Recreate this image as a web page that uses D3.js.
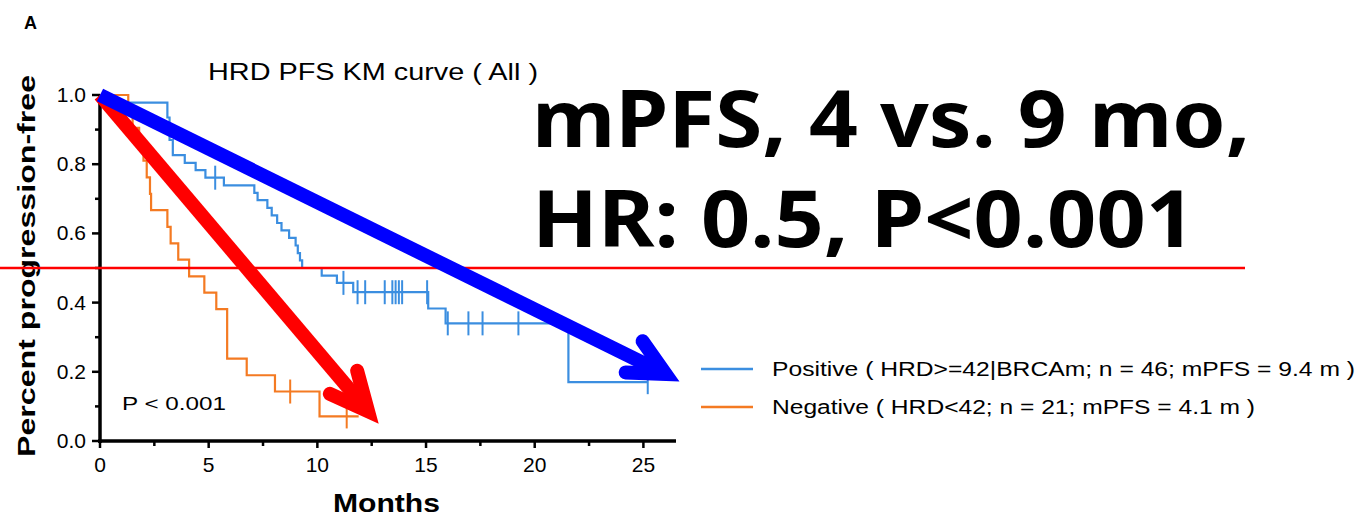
<!DOCTYPE html>
<html>
<head>
<meta charset="utf-8">
<script src="https://cdn.jsdelivr.net/npm/d3@7"></script>
<style>
  body { margin: 0; background: #fff; }
  #chart { width: 1362px; height: 516px; }
  text { font-family: "Liberation Sans", Arial, sans-serif; }
</style>
</head>
<body>
<div id="chart"></div>
<script>
// Positive group (HRD>=42|BRCAm), step times and survival
const posTimes = [0, 0.5, 3.1, 3.2, 3.35, 3.9, 4.4, 4.85, 5.7, 7.1, 7.25, 7.7, 7.9, 8.15, 8.35, 8.7, 9.0, 9.1, 9.2, 9.3, 10.2, 10.9, 11.65, 15.1, 15.9, 21.55, 25.2];
const posSurv = [1, 0.978, 0.935, 0.870, 0.826, 0.804, 0.783, 0.761, 0.739, 0.717, 0.696, 0.674, 0.652, 0.630, 0.609, 0.587, 0.565, 0.543, 0.522, 0.500, 0.478, 0.457, 0.430, 0.383, 0.340, 0.170, 0.170];
const posCensor = [5.3, 11.2, 11.85, 12.2, 13.1, 13.45, 13.6, 13.75, 13.9, 15.05, 16.0, 16.95, 17.6, 19.25, 25.2];

// Negative group (HRD<42)
const negTimes = [0, 1.3, 1.5, 1.8, 2.0, 2.15, 2.3, 2.35, 3.1, 3.25, 3.6, 4.1, 4.8, 5.35, 5.85, 6.75, 8.05, 10.1, 11.9];
const negSurv = [1, 0.952, 0.905, 0.857, 0.810, 0.762, 0.714, 0.667, 0.619, 0.571, 0.524, 0.476, 0.429, 0.381, 0.238, 0.190, 0.143, 0.071, 0.071];
const negCensor = [8.75, 11.35];

const xTicks = [0, 5, 10, 15, 20, 25];
const yTicks = [0, 0.2, 0.4, 0.6, 0.8, 1.0];
const legendLabels = [
  "Positive ( HRD>=42|BRCAm; n = 46; mPFS = 9.4 m )",
  "Negative ( HRD<42; n = 21; mPFS = 4.1 m )"
];
const headline = ["mPFS, 4 vs. 9 mo,", "HR: 0.5, P<0.001"];

const width = 1362, height = 516;
const blue = "#3b8ee0", orange = "#f47a22";

const svg = d3.select("#chart").append("svg")
    .attr("width", width)
    .attr("height", height);

const x = d3.scaleLinear().domain([0, 26.5]).range([100, 676]);
const y = d3.scaleLinear().domain([0, 1]).range([441, 95]);

// fit a text element to a given pixel width
function fit(sel, w) {
  sel.attr("textLength", w).attr("lengthAdjust", "spacingAndGlyphs");
  return sel;
}

svg.append("text").attr("x", 24).attr("y", 29)
    .style("font-size", "18px").style("font-weight", "bold").text("A");

fit(svg.append("text").attr("x", 208).attr("y", 80)
    .style("font-size", "24px").text("HRD PFS KM curve ( All )"), 330);

// axes
const g = svg.append("g");
g.append("line").attr("x1", x(0) - 2).attr("x2", x(26.5)).attr("y1", y(0)).attr("y2", y(0))
    .attr("stroke", "#000").attr("stroke-width", 3.5);
g.append("line").attr("x1", x(0)).attr("x2", x(0)).attr("y1", y(0) + 2).attr("y2", y(1))
    .attr("stroke", "#000").attr("stroke-width", 3.5);

const xMinor = d3.range(0, 26, 2.5);
g.selectAll(".xt").data(xMinor).join("line")
    .attr("x1", d => x(d)).attr("x2", d => x(d))
    .attr("y1", y(0)).attr("y2", d => y(0) + (d % 5 === 0 ? 7 : 5))
    .attr("stroke", "#000").attr("stroke-width", 2.5);
const yMinor = d3.range(0, 1.01, 0.1);
g.selectAll(".yt").data(yMinor).join("line")
    .attr("y1", d => y(d)).attr("y2", d => y(d))
    .attr("x1", x(0)).attr("x2", (d, i) => x(0) - (i % 2 === 0 ? 8 : 5))
    .attr("stroke", "#000").attr("stroke-width", 2.5);

g.selectAll(".xl").data(xTicks).join("text")
    .attr("x", d => x(d)).attr("y", y(0) + 31)
    .attr("text-anchor", "middle").style("font-size", "21px")
    .text(d => d);
g.selectAll(".yl").data(yTicks).join("text")
    .attr("x", 86).attr("y", d => y(d) + 7)
    .attr("text-anchor", "end").style("font-size", "21px")
    .text(d => d.toFixed(1));

fit(svg.append("text").attr("x", 333).attr("y", 512)
    .style("font-size", "25px").style("font-weight", "bold").text("Months"), 107);

fit(svg.append("text")
    .attr("transform", "translate(35,457) rotate(-90)")
    .style("font-size", "23px").style("font-weight", "bold").text("Percent progression-free"), 382);

fit(svg.append("text").attr("x", 122).attr("y", 410)
    .style("font-size", "19px").text("P < 0.001"), 104);

// KM curves
const line = d3.line().curve(d3.curveStepAfter).x(d => x(d[0])).y(d => y(d[1]));

function survAt(times, surv, t) {
  const i = d3.bisectRight(times, t) - 1;
  return surv[Math.max(0, i)];
}

const groups = [
  {times: negTimes, surv: negSurv, censor: negCensor, color: orange},
  {times: posTimes, surv: posSurv, censor: posCensor, color: blue}
];

groups.forEach(grp => {
  const pts = grp.times.map((t, i) => [t, grp.surv[i]]);
  svg.append("path").datum(pts)
      .attr("d", line)
      .attr("fill", "none")
      .attr("stroke", grp.color)
      .attr("stroke-width", 2.2);
  svg.selectAll(null).data(grp.censor).join("line")
      .attr("x1", d => x(d)).attr("x2", d => x(d))
      .attr("y1", d => y(survAt(grp.times, grp.surv, d)) - 12)
      .attr("y2", d => y(survAt(grp.times, grp.surv, d)) + 12)
      .attr("stroke", grp.color)
      .attr("stroke-width", 2);
});

// legend
legendLabels.forEach((lab, i) => {
  const ly = 369 + i * 38;
  svg.append("line").attr("x1", 701).attr("x2", 753).attr("y1", ly).attr("y2", ly)
      .attr("stroke", i === 0 ? blue : orange).attr("stroke-width", 2.5);
  fit(svg.append("text").attr("x", 772).attr("y", ly + 7)
      .style("font-size", "20px").text(lab), i === 0 ? 583 : 483);
});

// median reference line
svg.append("line").attr("x1", 0).attr("x2", 1245).attr("y1", y(0.5)).attr("y2", y(0.5))
    .attr("stroke", "#ff0000").attr("stroke-width", 2.5);

// annotation arrows; the miter point lands on the tip
function arrow(tip, color, angles, len) {
  const x0 = x(0), y0 = y(1);
  const a = Math.atan2(y(tip[1]) - y0, x(tip[0]) - x0);
  const tx = x(tip[0]) - 14 * Math.cos(a), ty = y(tip[1]) - 14 * Math.sin(a);
  svg.append("line").attr("x1", x0).attr("y1", y0).attr("x2", tx).attr("y2", ty)
      .attr("stroke", color).attr("stroke-width", 14);
  const p1 = [tx + len * Math.cos(a + Math.PI - angles[0]), ty + len * Math.sin(a + Math.PI - angles[0])];
  const p2 = [tx + len * Math.cos(a + Math.PI + angles[1]), ty + len * Math.sin(a + Math.PI + angles[1])];
  svg.append("path").attr("d", d3.line()([p1, [tx, ty], p2]))
      .attr("fill", "none").attr("stroke", color).attr("stroke-width", 14)
      .attr("stroke-linecap", "round").attr("stroke-linejoin", "miter").attr("stroke-miterlimit", 10);
}
arrow([12.75, 0.055], "#ff0000", [0.44, 0.44], 42);
arrow([26.6, 0.176], "#0000ff", [0.42, 0.5], 40);

// headline
headline.forEach((t, i) => {
  fit(svg.append("text").attr("x", 532).attr("y", 147 + i * 100)
      .style("font-family", "'Noto Sans', sans-serif")
      .style("font-size", "78px").style("font-weight", "bold").text(t), i === 0 ? 718 : 663);
});
</script>
</body>
</html>
